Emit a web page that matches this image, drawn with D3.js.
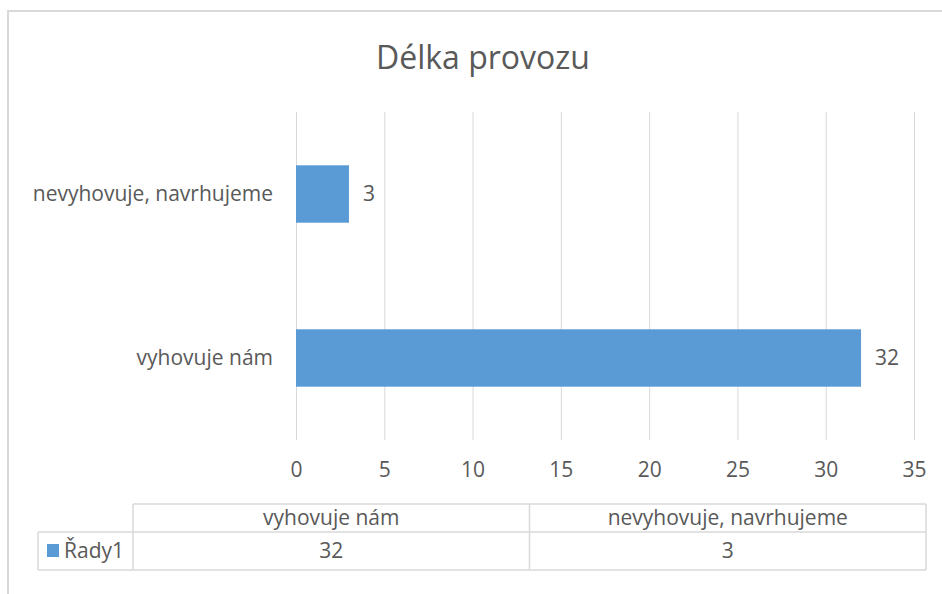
<!DOCTYPE html>
<html>
<head>
<meta charset="utf-8">
<script src="https://cdn.jsdelivr.net/npm/d3@7"></script>
<style>
  body { margin: 0; background: #fff; }
  text { font-family: "Open Sans", "DejaVu Sans", sans-serif; fill: #595959; }
</style>
</head>
<body>
<div id="graph"></div>
<script>
// chart data
var categories = ["nevyhovuje, navrhujeme", "vyhovuje nám"];
var values = [3, 32];
var seriesName = "Řady1";
var tableOrder = ["vyhovuje nám", "nevyhovuje, navrhujeme"];
var xTicks = [0, 5, 10, 15, 20, 25, 30, 35];
var title = "Délka provozu";

var W = 942, H = 594;
var margin = {top: 112, right: 28, bottom: 154, left: 296};
var width = W - margin.left - margin.right,
    height = H - margin.top - margin.bottom;

var svg = d3.select("#graph").append("svg")
    .attr("width", W)
    .attr("height", H);

// chart frame (only top and left edges are visible)
svg.append("path")
    .attr("d", "M8," + H + "V11H" + W)
    .attr("fill", "none")
    .attr("stroke", "#d9d9d9")
    .attr("stroke-width", 2);

svg.append("text")
    .attr("x", 483)
    .attr("y", 69)
    .attr("text-anchor", "middle")
    .style("font-size", "32px")
    .text(title);

var x = d3.scaleLinear().domain([0, 35]).range([0, width]);
var y = d3.scaleBand().domain(categories).range([0, height]).paddingInner(0.65).paddingOuter(0.325);

var focus = svg.append("g")
    .attr("transform", "translate(" + margin.left + "," + margin.top + ")");

// gridlines
focus.append("g").selectAll("line")
    .data(xTicks)
    .enter().append("line")
    .attr("x1", function(d) { return x(d) + 0.5; })
    .attr("x2", function(d) { return x(d) + 0.5; })
    .attr("y1", 0)
    .attr("y2", height)
    .attr("stroke", "#d9d9d9");

// bars
focus.append("g").selectAll("rect")
    .data(values)
    .enter().append("rect")
    .attr("x", 0)
    .attr("y", function(d, i) { return y(categories[i]); })
    .attr("width", function(d) { return x(d); })
    .attr("height", y.bandwidth())
    .attr("fill", "#5b9bd5");

// data labels
focus.append("g").selectAll("text")
    .data(values)
    .enter().append("text")
    .attr("x", function(d) { return x(d) + 14; })
    .attr("y", function(d, i) { return y(categories[i]) + y.bandwidth() / 2; })
    .attr("dy", "0.35em")
    .style("font-size", "21px")
    .text(function(d) { return d; });

// category labels
var yAxis = d3.axisLeft(y).tickSize(0).tickPadding(23);
var ya = focus.append("g").call(yAxis);
ya.select(".domain").remove();
ya.selectAll("text").style("font-size", "21px").style("font-family", null).attr("fill", null);

// x axis labels
var xAxis = d3.axisBottom(x).tickValues(xTicks).tickSize(0).tickPadding(22);
var xa = focus.append("g").attr("transform", "translate(0," + height + ")").call(xAxis);
xa.select(".domain").remove();
xa.selectAll("text").style("font-size", "21px").style("font-family", null).attr("fill", null);

// data table
var tLeft = 133, tRight = 926, legLeft = 38;
var rowTop = 504, rowMid = 532, rowBot = 570;
var cx = d3.scaleBand().domain(tableOrder).range([tLeft, tRight]);
var table = svg.append("g").attr("stroke", "#d9d9d9").attr("fill", "none").attr("stroke-width", 1.5);
table.append("line").attr("x1", tLeft).attr("x2", tRight).attr("y1", rowTop).attr("y2", rowTop);
table.append("line").attr("x1", legLeft).attr("x2", tRight).attr("y1", rowMid).attr("y2", rowMid);
table.append("line").attr("x1", legLeft).attr("x2", tRight).attr("y1", rowBot).attr("y2", rowBot);
table.append("line").attr("x1", legLeft).attr("x2", legLeft).attr("y1", rowMid).attr("y2", rowBot);
table.selectAll(".vdiv")
    .data(tableOrder.concat(["end"]))
    .enter().append("line")
    .attr("x1", function(d, i) { return tLeft + i * cx.bandwidth(); })
    .attr("x2", function(d, i) { return tLeft + i * cx.bandwidth(); })
    .attr("y1", rowTop)
    .attr("y2", rowBot);

svg.append("g").selectAll("text")
    .data(tableOrder)
    .enter().append("text")
    .attr("x", function(d) { return cx(d) + cx.bandwidth() / 2; })
    .attr("y", (rowTop + rowMid) / 2)
    .attr("dy", "0.35em")
    .attr("text-anchor", "middle")
    .style("font-size", "21px")
    .text(function(d) { return d; });

svg.append("g").selectAll("text")
    .data(tableOrder)
    .enter().append("text")
    .attr("x", function(d) { return cx(d) + cx.bandwidth() / 2; })
    .attr("y", (rowMid + rowBot) / 2)
    .attr("dy", "0.35em")
    .attr("text-anchor", "middle")
    .style("font-size", "21px")
    .text(function(d) { return values[categories.indexOf(d)]; });

svg.append("rect")
    .attr("x", 47).attr("y", 544)
    .attr("width", 12).attr("height", 13)
    .attr("fill", "#5b9bd5");
svg.append("text")
    .attr("x", 64)
    .attr("y", (rowMid + rowBot) / 2)
    .attr("dy", "0.35em")
    .style("font-size", "21px")
    .text(seriesName);
</script>
</body>
</html>
